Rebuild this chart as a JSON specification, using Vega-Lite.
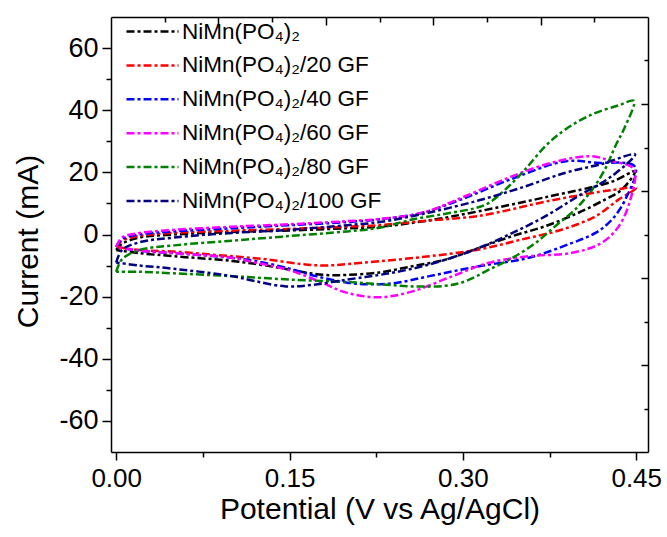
{
"$schema": "https://vega.github.io/schema/vega-lite/v6.json",
"width": 537, "height": 435,
"autosize": {"type": "none"},
"padding": {"left": 111, "top": 17, "right": 19, "bottom": 85},
"background": "white",
"config": {"view": {"stroke": null}, "font": "Liberation Sans"},
"layer": [
{
"data": {"values": [
{"sample":"NiMn(PO₄)₂","step":1,"potential":0,"current":-5},
{"sample":"NiMn(PO₄)₂","step":2,"potential":0.005,"current":-3},
{"sample":"NiMn(PO₄)₂","step":3,"potential":0.02,"current":-1},
{"sample":"NiMn(PO₄)₂","step":4,"potential":0.05,"current":0},
{"sample":"NiMn(PO₄)₂","step":5,"potential":0.1,"current":0.8},
{"sample":"NiMn(PO₄)₂","step":6,"potential":0.15,"current":1.3},
{"sample":"NiMn(PO₄)₂","step":7,"potential":0.2,"current":2},
{"sample":"NiMn(PO₄)₂","step":8,"potential":0.228,"current":2.5},
{"sample":"NiMn(PO₄)₂","step":9,"potential":0.27,"current":4.5},
{"sample":"NiMn(PO₄)₂","step":10,"potential":0.314,"current":7.5},
{"sample":"NiMn(PO₄)₂","step":11,"potential":0.3715,"current":12},
{"sample":"NiMn(PO₄)₂","step":12,"potential":0.429,"current":17},
{"sample":"NiMn(PO₄)₂","step":13,"potential":0.449,"current":20.4},
{"sample":"NiMn(PO₄)₂","step":14,"potential":0.4377,"current":14.5},
{"sample":"NiMn(PO₄)₂","step":15,"potential":0.4233,"current":11.3},
{"sample":"NiMn(PO₄)₂","step":16,"potential":0.4,"current":7},
{"sample":"NiMn(PO₄)₂","step":17,"potential":0.3715,"current":2.7},
{"sample":"NiMn(PO₄)₂","step":18,"potential":0.343,"current":-0.5},
{"sample":"NiMn(PO₄)₂","step":19,"potential":0.314,"current":-4.3},
{"sample":"NiMn(PO₄)₂","step":20,"potential":0.285,"current":-8.1},
{"sample":"NiMn(PO₄)₂","step":21,"potential":0.2565,"current":-10.2},
{"sample":"NiMn(PO₄)₂","step":22,"potential":0.228,"current":-12.2},
{"sample":"NiMn(PO₄)₂","step":23,"potential":0.2,"current":-13},
{"sample":"NiMn(PO₄)₂","step":24,"potential":0.18,"current":-13},
{"sample":"NiMn(PO₄)₂","step":25,"potential":0.16,"current":-12},
{"sample":"NiMn(PO₄)₂","step":26,"potential":0.13,"current":-10},
{"sample":"NiMn(PO₄)₂","step":27,"potential":0.1,"current":-8.5},
{"sample":"NiMn(PO₄)₂","step":28,"potential":0.05,"current":-7},
{"sample":"NiMn(PO₄)₂","step":29,"potential":0.02,"current":-6},
{"sample":"NiMn(PO₄)₂","step":30,"potential":0,"current":-5},

{"sample":"NiMn(PO₄)₂/20 GF","step":1,"potential":0,"current":-4},
{"sample":"NiMn(PO₄)₂/20 GF","step":2,"potential":0.005,"current":-2},
{"sample":"NiMn(PO₄)₂/20 GF","step":3,"potential":0.02,"current":-0.5},
{"sample":"NiMn(PO₄)₂/20 GF","step":4,"potential":0.05,"current":0.5},
{"sample":"NiMn(PO₄)₂/20 GF","step":5,"potential":0.1,"current":1.2},
{"sample":"NiMn(PO₄)₂/20 GF","step":6,"potential":0.15,"current":1.8},
{"sample":"NiMn(PO₄)₂/20 GF","step":7,"potential":0.2,"current":2.5},
{"sample":"NiMn(PO₄)₂/20 GF","step":8,"potential":0.228,"current":3},
{"sample":"NiMn(PO₄)₂/20 GF","step":9,"potential":0.27,"current":4.5},
{"sample":"NiMn(PO₄)₂/20 GF","step":10,"potential":0.314,"current":6},
{"sample":"NiMn(PO₄)₂/20 GF","step":11,"potential":0.377,"current":11},
{"sample":"NiMn(PO₄)₂/20 GF","step":12,"potential":0.429,"current":14.3},
{"sample":"NiMn(PO₄)₂/20 GF","step":13,"potential":0.45,"current":15},
{"sample":"NiMn(PO₄)₂/20 GF","step":14,"potential":0.435,"current":11.3},
{"sample":"NiMn(PO₄)₂/20 GF","step":15,"potential":0.415,"current":5.9},
{"sample":"NiMn(PO₄)₂/20 GF","step":16,"potential":0.386,"current":1.6},
{"sample":"NiMn(PO₄)₂/20 GF","step":17,"potential":0.351,"current":-1.6},
{"sample":"NiMn(PO₄)₂/20 GF","step":18,"potential":0.314,"current":-4.8},
{"sample":"NiMn(PO₄)₂/20 GF","step":19,"potential":0.271,"current":-7},
{"sample":"NiMn(PO₄)₂/20 GF","step":20,"potential":0.228,"current":-8.6},
{"sample":"NiMn(PO₄)₂/20 GF","step":21,"potential":0.2,"current":-9.5},
{"sample":"NiMn(PO₄)₂/20 GF","step":22,"potential":0.18,"current":-10},
{"sample":"NiMn(PO₄)₂/20 GF","step":23,"potential":0.16,"current":-9.5},
{"sample":"NiMn(PO₄)₂/20 GF","step":24,"potential":0.13,"current":-8},
{"sample":"NiMn(PO₄)₂/20 GF","step":25,"potential":0.1,"current":-7},
{"sample":"NiMn(PO₄)₂/20 GF","step":26,"potential":0.05,"current":-5.5},
{"sample":"NiMn(PO₄)₂/20 GF","step":27,"potential":0.02,"current":-5},
{"sample":"NiMn(PO₄)₂/20 GF","step":28,"potential":0,"current":-4},

{"sample":"NiMn(PO₄)₂/40 GF","step":1,"potential":0,"current":-4},
{"sample":"NiMn(PO₄)₂/40 GF","step":2,"potential":0.005,"current":-1.5},
{"sample":"NiMn(PO₄)₂/40 GF","step":3,"potential":0.02,"current":0},
{"sample":"NiMn(PO₄)₂/40 GF","step":4,"potential":0.05,"current":1},
{"sample":"NiMn(PO₄)₂/40 GF","step":5,"potential":0.1,"current":2},
{"sample":"NiMn(PO₄)₂/40 GF","step":6,"potential":0.15,"current":3},
{"sample":"NiMn(PO₄)₂/40 GF","step":7,"potential":0.2,"current":4},
{"sample":"NiMn(PO₄)₂/40 GF","step":8,"potential":0.23,"current":5},
{"sample":"NiMn(PO₄)₂/40 GF","step":9,"potential":0.265,"current":7},
{"sample":"NiMn(PO₄)₂/40 GF","step":10,"potential":0.3,"current":11.5},
{"sample":"NiMn(PO₄)₂/40 GF","step":11,"potential":0.343,"current":18},
{"sample":"NiMn(PO₄)₂/40 GF","step":12,"potential":0.389,"current":23.6},
{"sample":"NiMn(PO₄)₂/40 GF","step":13,"potential":0.415,"current":23.1},
{"sample":"NiMn(PO₄)₂/40 GF","step":14,"potential":0.449,"current":21.8},
{"sample":"NiMn(PO₄)₂/40 GF","step":15,"potential":0.4406,"current":11.3},
{"sample":"NiMn(PO₄)₂/40 GF","step":16,"potential":0.429,"current":4.8},
{"sample":"NiMn(PO₄)₂/40 GF","step":17,"potential":0.4147,"current":0.5},
{"sample":"NiMn(PO₄)₂/40 GF","step":18,"potential":0.3945,"current":-2.7},
{"sample":"NiMn(PO₄)₂/40 GF","step":19,"potential":0.357,"current":-7.5},
{"sample":"NiMn(PO₄)₂/40 GF","step":20,"potential":0.314,"current":-10.2},
{"sample":"NiMn(PO₄)₂/40 GF","step":21,"potential":0.271,"current":-13.4},
{"sample":"NiMn(PO₄)₂/40 GF","step":22,"potential":0.242,"current":-15.6},
{"sample":"NiMn(PO₄)₂/40 GF","step":23,"potential":0.22,"current":-16},
{"sample":"NiMn(PO₄)₂/40 GF","step":24,"potential":0.2,"current":-15.5},
{"sample":"NiMn(PO₄)₂/40 GF","step":25,"potential":0.173,"current":-13.4},
{"sample":"NiMn(PO₄)₂/40 GF","step":26,"potential":0.15,"current":-11},
{"sample":"NiMn(PO₄)₂/40 GF","step":27,"potential":0.12,"current":-8.5},
{"sample":"NiMn(PO₄)₂/40 GF","step":28,"potential":0.1,"current":-7.5},
{"sample":"NiMn(PO₄)₂/40 GF","step":29,"potential":0.05,"current":-6},
{"sample":"NiMn(PO₄)₂/40 GF","step":30,"potential":0.02,"current":-5.2},
{"sample":"NiMn(PO₄)₂/40 GF","step":31,"potential":0,"current":-4},

{"sample":"NiMn(PO₄)₂/60 GF","step":1,"potential":0,"current":-4},
{"sample":"NiMn(PO₄)₂/60 GF","step":2,"potential":0.005,"current":-1},
{"sample":"NiMn(PO₄)₂/60 GF","step":3,"potential":0.02,"current":0.5},
{"sample":"NiMn(PO₄)₂/60 GF","step":4,"potential":0.05,"current":1.5},
{"sample":"NiMn(PO₄)₂/60 GF","step":5,"potential":0.1,"current":2.5},
{"sample":"NiMn(PO₄)₂/60 GF","step":6,"potential":0.15,"current":3.3},
{"sample":"NiMn(PO₄)₂/60 GF","step":7,"potential":0.2,"current":4.3},
{"sample":"NiMn(PO₄)₂/60 GF","step":8,"potential":0.228,"current":5},
{"sample":"NiMn(PO₄)₂/60 GF","step":9,"potential":0.265,"current":7},
{"sample":"NiMn(PO₄)₂/60 GF","step":10,"potential":0.3025,"current":12.4},
{"sample":"NiMn(PO₄)₂/60 GF","step":11,"potential":0.343,"current":18.8},
{"sample":"NiMn(PO₄)₂/60 GF","step":12,"potential":0.377,"current":23.1},
{"sample":"NiMn(PO₄)₂/60 GF","step":13,"potential":0.41,"current":25.2},
{"sample":"NiMn(PO₄)₂/60 GF","step":14,"potential":0.429,"current":23.6},
{"sample":"NiMn(PO₄)₂/60 GF","step":15,"potential":0.448,"current":21},
{"sample":"NiMn(PO₄)₂/60 GF","step":16,"potential":0.445,"current":11.3},
{"sample":"NiMn(PO₄)₂/60 GF","step":17,"potential":0.435,"current":2.7},
{"sample":"NiMn(PO₄)₂/60 GF","step":18,"potential":0.42,"current":-2.7},
{"sample":"NiMn(PO₄)₂/60 GF","step":19,"potential":0.3945,"current":-5.9},
{"sample":"NiMn(PO₄)₂/60 GF","step":20,"potential":0.357,"current":-7},
{"sample":"NiMn(PO₄)₂/60 GF","step":21,"potential":0.3226,"current":-9.1},
{"sample":"NiMn(PO₄)₂/60 GF","step":22,"potential":0.291,"current":-13.4},
{"sample":"NiMn(PO₄)₂/60 GF","step":23,"potential":0.2564,"current":-18.3},
{"sample":"NiMn(PO₄)₂/60 GF","step":24,"potential":0.228,"current":-20.2},
{"sample":"NiMn(PO₄)₂/60 GF","step":25,"potential":0.2,"current":-18.8},
{"sample":"NiMn(PO₄)₂/60 GF","step":26,"potential":0.175,"current":-15},
{"sample":"NiMn(PO₄)₂/60 GF","step":27,"potential":0.15,"current":-11.5},
{"sample":"NiMn(PO₄)₂/60 GF","step":28,"potential":0.12,"current":-9},
{"sample":"NiMn(PO₄)₂/60 GF","step":29,"potential":0.1,"current":-7.5},
{"sample":"NiMn(PO₄)₂/60 GF","step":30,"potential":0.05,"current":-6},
{"sample":"NiMn(PO₄)₂/60 GF","step":31,"potential":0.02,"current":-5.2},
{"sample":"NiMn(PO₄)₂/60 GF","step":32,"potential":0,"current":-4},

{"sample":"NiMn(PO₄)₂/80 GF","step":1,"potential":0,"current":-12},
{"sample":"NiMn(PO₄)₂/80 GF","step":2,"potential":0.005,"current":-8},
{"sample":"NiMn(PO₄)₂/80 GF","step":3,"potential":0.02,"current":-5},
{"sample":"NiMn(PO₄)₂/80 GF","step":4,"potential":0.05,"current":-3.5},
{"sample":"NiMn(PO₄)₂/80 GF","step":5,"potential":0.1,"current":-2},
{"sample":"NiMn(PO₄)₂/80 GF","step":6,"potential":0.15,"current":-0.5},
{"sample":"NiMn(PO₄)₂/80 GF","step":7,"potential":0.2,"current":1},
{"sample":"NiMn(PO₄)₂/80 GF","step":8,"potential":0.228,"current":2.2},
{"sample":"NiMn(PO₄)₂/80 GF","step":9,"potential":0.256,"current":4.8},
{"sample":"NiMn(PO₄)₂/80 GF","step":10,"potential":0.29,"current":7},
{"sample":"NiMn(PO₄)₂/80 GF","step":11,"potential":0.311,"current":8.5},
{"sample":"NiMn(PO₄)₂/80 GF","step":12,"potential":0.3226,"current":10.2},
{"sample":"NiMn(PO₄)₂/80 GF","step":13,"potential":0.34,"current":15.6},
{"sample":"NiMn(PO₄)₂/80 GF","step":14,"potential":0.354,"current":21},
{"sample":"NiMn(PO₄)₂/80 GF","step":15,"potential":0.3715,"current":28.5},
{"sample":"NiMn(PO₄)₂/80 GF","step":16,"potential":0.389,"current":33.9},
{"sample":"NiMn(PO₄)₂/80 GF","step":17,"potential":0.412,"current":38.7},
{"sample":"NiMn(PO₄)₂/80 GF","step":18,"potential":0.435,"current":41.6},
{"sample":"NiMn(PO₄)₂/80 GF","step":19,"potential":0.448,"current":43},
{"sample":"NiMn(PO₄)₂/80 GF","step":20,"potential":0.4406,"current":34.9},
{"sample":"NiMn(PO₄)₂/80 GF","step":21,"potential":0.432,"current":28.5},
{"sample":"NiMn(PO₄)₂/80 GF","step":22,"potential":0.423,"current":21},
{"sample":"NiMn(PO₄)₂/80 GF","step":23,"potential":0.412,"current":14.5},
{"sample":"NiMn(PO₄)₂/80 GF","step":24,"potential":0.397,"current":8},
{"sample":"NiMn(PO₄)₂/80 GF","step":25,"potential":0.38,"current":2.7},
{"sample":"NiMn(PO₄)₂/80 GF","step":26,"potential":0.363,"current":-2.7},
{"sample":"NiMn(PO₄)₂/80 GF","step":27,"potential":0.343,"current":-7.5},
{"sample":"NiMn(PO₄)₂/80 GF","step":28,"potential":0.3226,"current":-11.3},
{"sample":"NiMn(PO₄)₂/80 GF","step":29,"potential":0.3025,"current":-15},
{"sample":"NiMn(PO₄)₂/80 GF","step":30,"potential":0.285,"current":-16.5},
{"sample":"NiMn(PO₄)₂/80 GF","step":31,"potential":0.256,"current":-16.7},
{"sample":"NiMn(PO₄)₂/80 GF","step":32,"potential":0.228,"current":-16},
{"sample":"NiMn(PO₄)₂/80 GF","step":33,"potential":0.2,"current":-15.3},
{"sample":"NiMn(PO₄)₂/80 GF","step":34,"potential":0.15,"current":-14.5},
{"sample":"NiMn(PO₄)₂/80 GF","step":35,"potential":0.1,"current":-13.4},
{"sample":"NiMn(PO₄)₂/80 GF","step":36,"potential":0.05,"current":-12.5},
{"sample":"NiMn(PO₄)₂/80 GF","step":37,"potential":0.02,"current":-12},
{"sample":"NiMn(PO₄)₂/80 GF","step":38,"potential":0,"current":-12},

{"sample":"NiMn(PO₄)₂/100 GF","step":1,"potential":0,"current":-9},
{"sample":"NiMn(PO₄)₂/100 GF","step":2,"potential":0.005,"current":-5},
{"sample":"NiMn(PO₄)₂/100 GF","step":3,"potential":0.02,"current":-2.5},
{"sample":"NiMn(PO₄)₂/100 GF","step":4,"potential":0.05,"current":-1},
{"sample":"NiMn(PO₄)₂/100 GF","step":5,"potential":0.1,"current":0.5},
{"sample":"NiMn(PO₄)₂/100 GF","step":6,"potential":0.15,"current":1.5},
{"sample":"NiMn(PO₄)₂/100 GF","step":7,"potential":0.2,"current":3},
{"sample":"NiMn(PO₄)₂/100 GF","step":8,"potential":0.228,"current":4},
{"sample":"NiMn(PO₄)₂/100 GF","step":9,"potential":0.27,"current":7},
{"sample":"NiMn(PO₄)₂/100 GF","step":10,"potential":0.314,"current":11},
{"sample":"NiMn(PO₄)₂/100 GF","step":11,"potential":0.35,"current":15},
{"sample":"NiMn(PO₄)₂/100 GF","step":12,"potential":0.389,"current":19.9},
{"sample":"NiMn(PO₄)₂/100 GF","step":13,"potential":0.42,"current":22.7},
{"sample":"NiMn(PO₄)₂/100 GF","step":14,"potential":0.449,"current":25.8},
{"sample":"NiMn(PO₄)₂/100 GF","step":15,"potential":0.429,"current":18.8},
{"sample":"NiMn(PO₄)₂/100 GF","step":16,"potential":0.4,"current":12.4},
{"sample":"NiMn(PO₄)₂/100 GF","step":17,"potential":0.3715,"current":5.9},
{"sample":"NiMn(PO₄)₂/100 GF","step":18,"potential":0.343,"current":0.5},
{"sample":"NiMn(PO₄)₂/100 GF","step":19,"potential":0.314,"current":-4.3},
{"sample":"NiMn(PO₄)₂/100 GF","step":20,"potential":0.285,"current":-8.1},
{"sample":"NiMn(PO₄)₂/100 GF","step":21,"potential":0.2564,"current":-11},
{"sample":"NiMn(PO₄)₂/100 GF","step":22,"potential":0.228,"current":-13},
{"sample":"NiMn(PO₄)₂/100 GF","step":23,"potential":0.2,"current":-14.5},
{"sample":"NiMn(PO₄)₂/100 GF","step":24,"potential":0.17,"current":-16.2},
{"sample":"NiMn(PO₄)₂/100 GF","step":25,"potential":0.147,"current":-16.7},
{"sample":"NiMn(PO₄)₂/100 GF","step":26,"potential":0.12,"current":-15},
{"sample":"NiMn(PO₄)₂/100 GF","step":27,"potential":0.1,"current":-13.4},
{"sample":"NiMn(PO₄)₂/100 GF","step":28,"potential":0.044,"current":-10.8},
{"sample":"NiMn(PO₄)₂/100 GF","step":29,"potential":0.02,"current":-10},
{"sample":"NiMn(PO₄)₂/100 GF","step":30,"potential":0,"current":-9}
]},
"mark": {"type": "line", "interpolate": "catmull-rom", "strokeWidth": 2.5, "strokeDash": [8, 3, 3, 3]},
"encoding": {
"x": {"field": "potential", "type": "quantitative",
 "scale": {"domain": [-0.0045, 0.4602], "nice": false, "zero": false},
 "axis": {"orient": "bottom", "title": "Potential (V vs Ag/AgCl)",
  "values": [0, 0.075, 0.15, 0.225, 0.3, 0.375, 0.45],
  "labelExpr": "round(datum.value*1000) % 150 == 0 ? format(datum.value, '.2f') : ''",
  "tickSize": {"condition": {"test": "round(datum.value*1000) % 150 == 0", "value": 8}, "value": 5},
  "grid": false, "domainColor": "black", "domainWidth": 1.5, "tickColor": "black", "tickWidth": 1.5,
  "labelFontSize": 26, "labelColor": "black", "labelPadding": 5, "labelFlush": false, "labelOverlap": false,
  "titleFontSize": 30, "titleFontWeight": "normal", "titleColor": "black", "titlePadding": 3}},
"y": {"field": "current", "type": "quantitative",
 "scale": {"domain": [-70, 70], "nice": false, "zero": false},
 "axis": {"orient": "left", "title": "Current (mA)",
  "values": [-60, -50, -40, -30, -20, -10, 0, 10, 20, 30, 40, 50, 60],
  "labelExpr": "datum.value % 20 == 0 ? '' + datum.value : ''",
  "tickSize": {"condition": {"test": "datum.value % 20 == 0", "value": 9}, "value": 5},
  "grid": false, "domainColor": "black", "domainWidth": 1.5, "tickColor": "black", "tickWidth": 1.5,
  "labelFontSize": 27, "labelColor": "black", "labelPadding": 4, "labelFlush": false, "labelOverlap": false,
  "titleFontSize": 30, "titleFontWeight": "normal", "titleColor": "black", "titlePadding": 15, "titleY": 224}},
"color": {"field": "sample", "type": "nominal",
 "scale": {"domain": ["NiMn(PO₄)₂", "NiMn(PO₄)₂/20 GF", "NiMn(PO₄)₂/40 GF", "NiMn(PO₄)₂/60 GF", "NiMn(PO₄)₂/80 GF", "NiMn(PO₄)₂/100 GF"],
  "range": ["#000000", "#ff0000", "#0000ff", "#ff00ff", "#008000", "#000080"]},
 "legend": {"orient": "none", "legendX": 27, "legendY": 0, "title": null,
  "symbolType": "M-2,0H2", "symbolSize": 676, "symbolStrokeWidth": 2.5, "symbolDash": [8, 3, 3, 3], "symbolFillColor": "transparent",
  "labelFontSize": 22.5, "labelColor": "black", "labelOffset": 15, "rowPadding": 7.9, "padding": 0, "labelLimit": 400}},
"order": {"field": "step", "type": "quantitative"}
}
},
{
"data": {"values": [{"k": 0}, {"k": 10}]},
"mark": {"type": "point", "opacity": 0},
"encoding": {
"x": {"field": "k", "type": "quantitative", "scale": {"domain": [0, 10], "nice": false},
 "axis": {"orient": "top", "title": null, "labels": false, "values": [1, 2, 3, 4, 5, 6, 7, 8, 9],
  "tickSize": {"condition": {"test": "datum.value % 2 == 0", "value": -8}, "value": -5},
  "grid": false, "domainColor": "black", "domainWidth": 1.5, "tickColor": "black", "tickWidth": 1.5}},
"y": {"field": "k", "type": "quantitative", "scale": {"domain": [0, 10], "nice": false},
 "axis": {"orient": "right", "title": null, "labels": false, "values": [1, 2, 3, 4, 5, 6, 7, 8, 9],
  "tickSize": {"condition": {"test": "datum.value % 2 == 0", "value": -7}, "value": -4},
  "grid": false, "domainColor": "black", "domainWidth": 1.5, "tickColor": "black", "tickWidth": 1.5}}
}
}
],
"resolve": {"scale": {"x": "independent", "y": "independent"}}
}
